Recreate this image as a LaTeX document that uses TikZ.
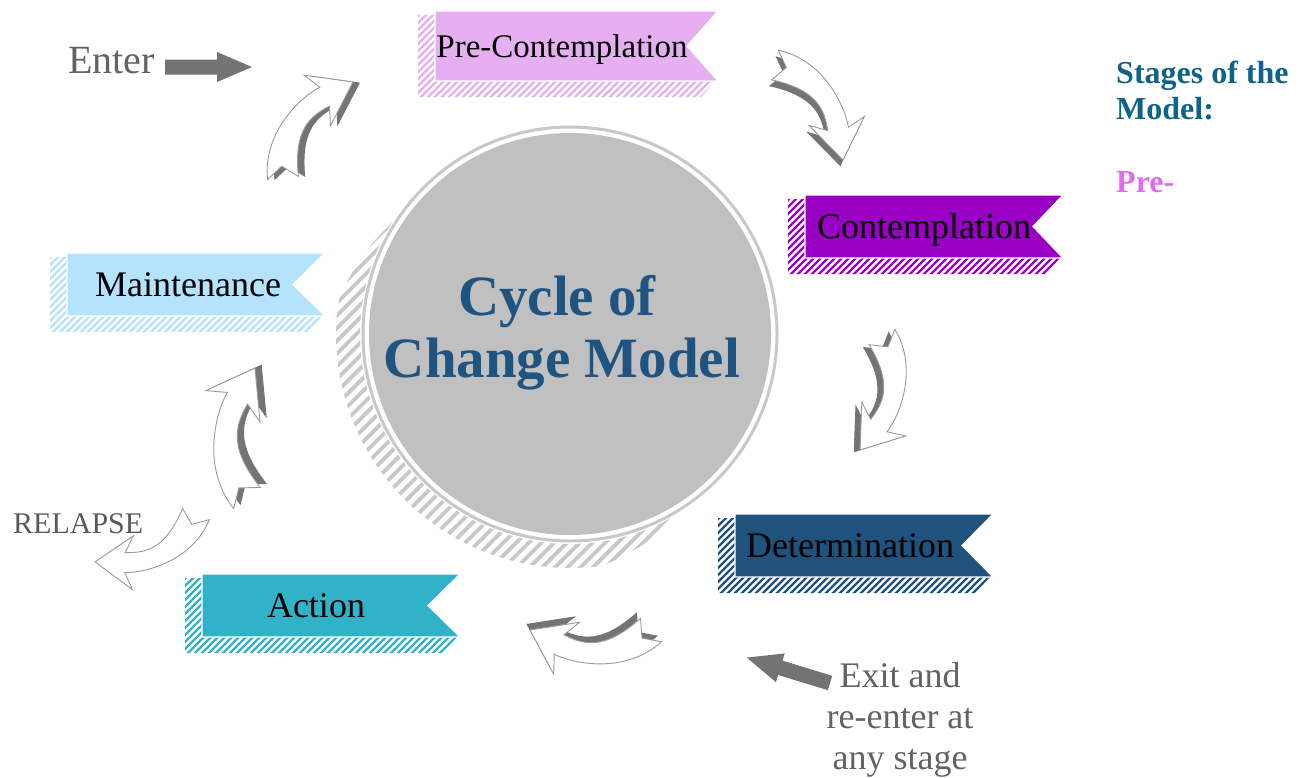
\documentclass[tikz,border=0pt]{standalone}
\usepackage{fontspec}
\setmainfont{Liberation Serif}
\definecolor{prec}{HTML}{E5AFF1}
\definecolor{contc}{HTML}{9A00C4}
\definecolor{detc}{HTML}{1F527C}
\definecolor{actc}{HTML}{31B2C9}
\definecolor{maintc}{HTML}{B5E2FD}
\definecolor{circgray}{HTML}{C0C0C0}
\definecolor{ringgray}{HTML}{C8C8C8}
\definecolor{shadegray}{HTML}{747474}
\definecolor{outlinegray}{HTML}{9A9A9A}
\definecolor{blockgray}{HTML}{737373}
\definecolor{labelgray}{HTML}{636363}
\definecolor{relgray}{HTML}{5A5A5A}
\definecolor{titleblue}{HTML}{1F5480}
\definecolor{stagesblue}{HTML}{0F6388}
\definecolor{prepink}{HTML}{E36AF5}
\newcommand\stagebanner[6]{%
  \begin{scope}
    \clip (#1-17,#2+4) -- (#1,#2+4) -- (#1,#4) -- (#3-3,#4) -- (#3-17,#4+16) -- (#1-17,#4+16) -- cycle;
    \foreach \k in {-130,-123,...,300}
      \draw[#6, line width=2.4pt] (#1+\k,#4+20) -- (#1+\k+100,#4-80);
  \end{scope}
  \fill[#6, draw=white, line width=1.2pt]
    (#1,#2) -- (#3,#2) -- (#5,{(#2+#4)/2}) -- (#3,#4) -- (#1,#4) -- cycle;
}
\begin{document}
\begin{tikzpicture}[x=1pt,y=-1pt,
  stagetxt/.style={anchor=base, font=\fontsize{36}{40}\selectfont, text=black, inner sep=0},
  swarrow/.pic={
    \fill[shadegray, shift={(3,5)}] (7.4,-6.7) -- (-8.7,-9.7) .. controls (21.3,-36.7) and (64,-28) .. (80,-20) -- (80.4,-36.6) -- (100,0) -- (59,6.4) -- (72,-4) .. controls (56,-12) and (38.7,-17.3) .. (8.7,9.7) -- cycle;
    \filldraw[fill=white, draw=outlinegray, line width=0.9pt] (7.4,-6.7) -- (-8.7,-9.7) .. controls (21.3,-36.7) and (64,-28) .. (80,-20) -- (80.4,-36.6) -- (100,0) -- (59,6.4) -- (72,-4) .. controls (56,-12) and (38.7,-17.3) .. (8.7,9.7) -- cycle;
  },
  plainarrow/.pic={
    \filldraw[fill=white, draw=outlinegray, line width=0.9pt] (7.4,-6.7) -- (-8.7,-9.7) .. controls (21.3,-36.7) and (64,-28) .. (80,-20) -- (80.4,-36.6) -- (100,0) -- (59,6.4) -- (72,-4) .. controls (56,-12) and (38.7,-17.3) .. (8.7,9.7) -- cycle;
  },
  blockarr/.pic={
    \fill[blockgray] (0,-7.5) -- (52,-7.5) -- (52,-15) -- (87,0) -- (52,15) -- (52,7.5) -- (0,7.5) -- cycle;
  }
]
\useasboundingbox[fill=white] (0,0) rectangle (1305,777);

% central circle with hatched (knurled) shadow band
\begin{scope}
  \clip plot[domain=58:212, samples=80] ({570+(210+24*min(1,(\x-58)/24,(212-\x)/24))*cos(\x)}, {334+(210+24*min(1,(\x-58)/24,(212-\x)/24))*sin(\x)})
     -- plot[domain=212:58, samples=80] ({570+210*cos(\x)}, {334+210*sin(\x)}) -- cycle;
  \foreach \k in {-200,-187.3,...,760}
    \draw[ringgray, line width=3.8pt] (\k,700) -- (\k+500,200);
\end{scope}
\draw[ringgray, line width=3pt] (570,334) circle (207);
\node[circle, fill=circgray, minimum size=402pt, inner sep=0] (hub) at (570,334) {};
\node[anchor=base, font=\bfseries\fontsize{57}{62}\selectfont, text=titleblue, inner sep=0] (title1) at (557,315) {Cycle of};
\node[anchor=base, font=\bfseries\fontsize{57}{62}\selectfont, text=titleblue, inner sep=0] (title2) at (562,377) {Change Model};

% banners
\stagebanner{435}{11}{718}{81}{687}{prec}
\stagebanner{805}{195}{1063}{258}{1033}{contc}
\stagebanner{735}{514}{993}{577}{962}{detc}
\stagebanner{202}{574}{460}{637}{428}{actc}
\stagebanner{67}{253}{325}{316}{293}{maintc}
\node[stagetxt, font=\fontsize{33}{37}\selectfont] (pre) at (562,57) {Pre-Contemplation};
\node[stagetxt] (cont) at (924,238.5) {Contemplation};
\node[stagetxt] (det) at (850,557.5) {Determination};
\node[stagetxt] (act) at (316,617.5) {Action};
\node[stagetxt] (maint) at (188,296.5) {Maintenance};

% curved cycle arrows
\coordinate (a1) at (775,65);
\coordinate (a2) at (882,337);
\coordinate (a3) at (651,630);
\coordinate (a4) at (247,498);
\coordinate (a5) at (283,178);
\coordinate (a6) at (196,514);
\pic[rotate=-54.4, scale=1.168] at (a1) {swarrow};
\pic[rotate=-101, scale=1.151] at (a2) {swarrow};
\pic[rotate=180, scale=1.21] at (a3) {swarrow};
\pic[rotate=86.5, scale=1.302] at (a4) {swarrow};
\pic[rotate=53.9, scale=1.188] at (a5) {swarrow};
\pic[rotate=-154.6, scale=1.118] at (a6) {plainarrow};

% enter / exit
\coordinate (enterTail) at (165,67);
\pic at (enterTail) {blockarr};
\coordinate (exitTail) at (830,683);
\pic[rotate=163] at (exitTail) {blockarr};

\node[anchor=base west, font=\fontsize{40}{44}\selectfont, text=labelgray, inner sep=0] (enter) at (68,73) {Enter};
\node[anchor=base west, font=\fontsize{30}{34}\selectfont, text=relgray, inner sep=0] (relapse) at (13,533) {RELAPSE};
\node[anchor=base, font=\fontsize{36}{40}\selectfont, text=labelgray, inner sep=0] (exit1) at (900,687) {Exit and};
\node[anchor=base, font=\fontsize{36}{40}\selectfont, text=labelgray, inner sep=0] (exit2) at (900,728) {re-enter at};
\node[anchor=base, font=\fontsize{36}{40}\selectfont, text=labelgray, inner sep=0] (exit3) at (900,769) {any stage};

% side text
\node[anchor=base west, font=\bfseries\fontsize{32}{36}\selectfont, text=stagesblue, inner sep=0] (side1) at (1116,83) {Stages of the};
\node[anchor=base west, font=\bfseries\fontsize{32}{36}\selectfont, text=stagesblue, inner sep=0] (side2) at (1116,119) {Model:};
\node[anchor=base west, font=\bfseries\fontsize{32}{36}\selectfont, text=prepink, inner sep=0] (side3) at (1116,192) {Pre-};
\end{tikzpicture}
\end{document}
